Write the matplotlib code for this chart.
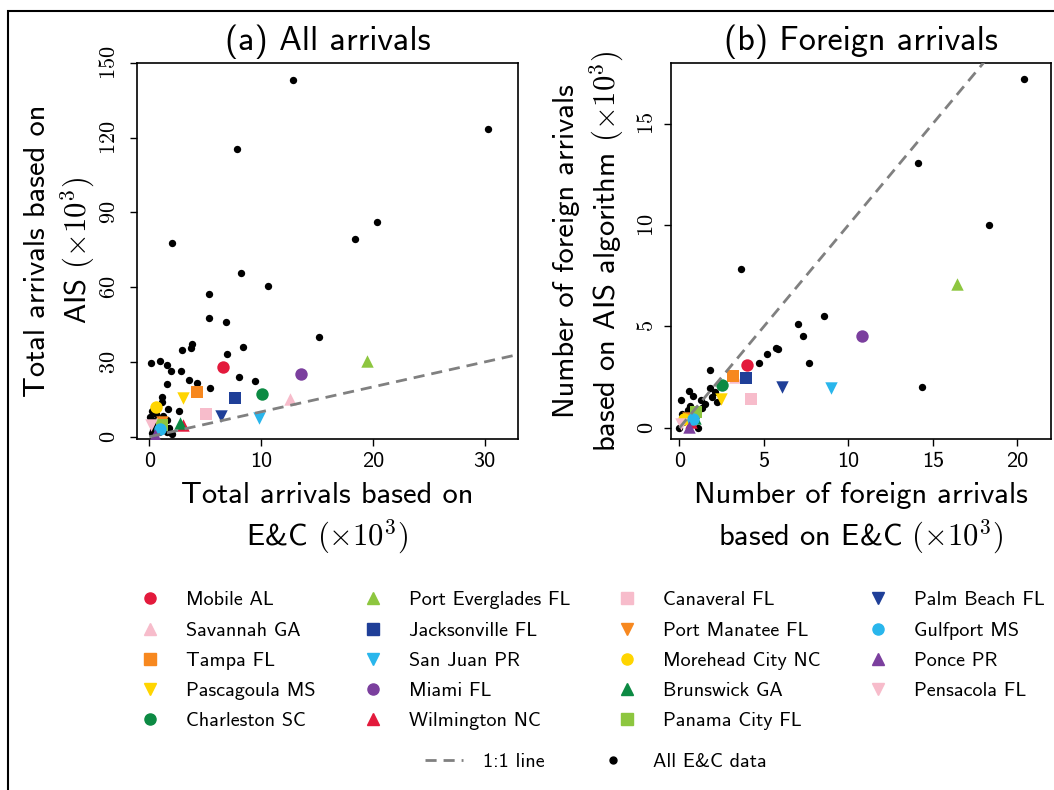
import numpy as np
import matplotlib
matplotlib.use("Agg")
import matplotlib.pyplot as plt
from matplotlib.lines import Line2D
from matplotlib.patches import Rectangle

plt.rcParams['font.family'] = ['cmss10', 'DejaVu Sans']
plt.rcParams['mathtext.fontset'] = 'cm'
plt.rcParams['axes.unicode_minus'] = False

# ports (legend order) with marker style and colour
ports = ['Mobile AL', 'Savannah GA', 'Tampa FL', 'Pascagoula MS', 'Charleston SC',
         'Port Everglades FL', 'Jacksonville FL', 'San Juan PR', 'Miami FL', 'Wilmington NC',
         'Canaveral FL', 'Port Manatee FL', 'Morehead City NC', 'Brunswick GA', 'Panama City FL',
         'Palm Beach FL', 'Gulfport MS', 'Ponce PR', 'Pensacola FL']
markers = ['o', '^', 's', 'v', 'o', '^', 's', 'v', 'o', '^',
           's', 'v', 'o', '^', 's', 'v', 'o', '^', 'v']
colors = ['#E31A3C', '#F7BCCB', '#F7881F', '#FFD500', '#0C8A43',
          '#8DC63F', '#1F3F98', '#29B6EC', '#7B3F9E', '#E31A3C',
          '#F7BCCB', '#F7881F', '#FFD500', '#0C8A43', '#8DC63F',
          '#1F3F98', '#29B6EC', '#7B3F9E', '#F7BCCB']

# (a) all arrivals, thousands: E&C vs AIS
port_all_ec = [6.6, 12.6, 4.3, 3.0, 10.1, 19.5, 7.7, 9.8, 13.6, 3.0,
               5.1, 1.1, 0.6, 2.75, 1.1, 6.4, 0.95, 0.5, 0.13]
port_all_ais = [28.1, 15.0, 18.0, 15.4, 17.0, 30.5, 15.7, 7.4, 25.0, 4.8,
                9.1, 6.0, 12.0, 5.6, 4.7, 8.4, 3.0, 0.7, 4.7]

# (b) foreign arrivals, thousands: E&C vs AIS algorithm
port_for_ec = [4.0, 3.3, 3.2, 2.45, 2.5, 16.45, 3.95, 8.95, 10.8, 0.7,
               4.25, 0.5, 0.25, 0.9, 0.97, 6.05, 0.83, 0.57, 0.08]
port_for_ais = [3.1, 2.5, 2.56, 1.4, 2.12, 7.1, 2.48, 1.95, 4.54, 0.3,
                1.44, 0.5, 0.44, 0.5, 0.77, 2.0, 0.44, 0.06, 0.2]

# all E&C records
all_ec_x = [12.9, 30.3, 7.84, 2.06, 20.4, 18.4, 8.17, 10.65, 5.31, 5.31,
            6.83, 15.15, 3.85, 3.73, 2.93, 8.35, 6.98, 0.15, 0.98, 1.61,
            1.97, 2.84, 3.52, 4.27, 8.02, 9.45, 5.46, 1.58, 1.14, 1.11,
            1.7, 2.63, 0.2, 0.1, 0.6, 1.2, 1.6, 0.4, 1.3, 1.8,
            0.9, 1.6, 0.2, 2.0, 0.5, 1.0, 0.3]
all_ec_y = [143.0, 123.3, 115.4, 77.7, 86.1, 79.4, 65.9, 60.6, 57.3, 47.7,
            45.9, 40.0, 37.1, 35.7, 34.8, 36.1, 33.2, 29.6, 30.5, 28.7,
            26.4, 26.4, 22.8, 21.7, 23.9, 22.2, 19.7, 21.3, 15.9, 14.1,
            11.0, 10.3, 10.5, 8.0, 9.0, 8.2, 6.8, 6.5, 4.5, 3.5,
            2.0, 1.8, 1.5, 1.2, 4.0, 6.0, 2.8]
for_ec_x = [20.39, 14.13, 18.32, 3.63, 8.55, 7.05, 7.31, 7.68, 14.36, 5.73,
            5.85, 5.16, 4.69, 1.83, 1.81, 2.11, 2.21, 0.1, 0.57, 0.83,
            1.26, 1.32, 0.63, 0.14, 1.12, 0.0, 0.34, 1.0, 1.5, 0.5,
            1.9, 0.2]
for_ec_y = [17.21, 13.08, 10.01, 7.86, 5.51, 5.10, 4.51, 3.21, 2.0, 3.94,
            3.9, 3.63, 3.18, 2.84, 1.97, 1.76, 1.26, 1.38, 1.82, 1.56,
            1.38, 0.98, 1.1, 0.69, 0.0, 0.0, 0.44, 0.6, 1.2, 0.9,
            1.5, 0.3]

fig = plt.figure(figsize=(10.54, 7.9), dpi=100)
ax1 = fig.add_axes([0.130, 0.4443, 0.3615, 0.476])
ax2 = fig.add_axes([0.6366, 0.4443, 0.3605, 0.476])

line_kw = dict(color='gray', ls=(0, (4, 2.5)), lw=2, zorder=5)

def draw(ax, ec_x, ec_y, px, py, lim):
    ax.scatter(ec_x, ec_y, s=28, c='black', lw=0, zorder=2)
    for i in range(len(ports)):
        ax.scatter(px[i], py[i], s=80, marker=markers[i], c=colors[i], lw=0, zorder=3)
    ax.plot([0, lim], [0, lim], **line_kw)

draw(ax1, all_ec_x, all_ec_y, port_all_ec, port_all_ais, 40)
draw(ax2, for_ec_x, for_ec_y, port_for_ec, port_for_ais, 25)

ax1.set_xlim(-1.1, 33)
ax1.set_ylim(-0.9, 150)
ax2.set_xlim(-0.5, 22)
ax2.set_ylim(-0.55, 18)

ax1.set_xticks([0, 10, 20, 30])
ax1.set_yticks([0, 30, 60, 90, 120, 150])
ax2.set_xticks([0, 5, 10, 15, 20])
ax2.set_yticks([0, 5, 10, 15])

for ax, ypad in ((ax1, 8), (ax2, 5)):
    ax.set_yticklabels(['$%d$' % t for t in ax.get_yticks()], rotation=90,
                       va='center', fontsize=16)
    ax.set_xticklabels(['%d' % t for t in ax.get_xticks()], fontsize=16)
    ax.tick_params(axis='y', pad=ypad, length=5, width=1)
    ax.tick_params(axis='x', pad=4, length=5, width=1)
    for sp in ax.spines.values():
        sp.set_linewidth(1.2)

ax1.set_title('(a) All arrivals', fontsize=24.5, pad=9)
ax2.set_title('(b) Foreign arrivals', fontsize=24.5, pad=9)

lab_kw = dict(fontsize=22, va='center', linespacing=1.28)
ax1.set_xlabel('Total arrivals based on\nE&C $(\\times 10^3)$', **lab_kw)
ax1.set_ylabel('Total arrivals based on\nAIS $(\\times 10^3)$', **lab_kw)
ax2.set_xlabel('Number of foreign arrivals\nbased on E&C $(\\times 10^3)$', **lab_kw)
ax2.set_ylabel('Number of foreign arrivals\nbased on AIS algorithm $(\\times 10^3)$', **lab_kw)
ax1.xaxis.set_label_coords(0.5, -0.213)
ax1.yaxis.set_label_coords(-0.2, 0.5)
ax2.xaxis.set_label_coords(0.5, -0.213)
ax2.yaxis.set_label_coords(-0.215, 0.5)

# port legend
handles = [Line2D([], [], ls='none', marker=markers[i], color=colors[i], ms=8)
           for i in range(len(ports))]
fig.legend(handles, ports, ncol=4, loc='upper left', bbox_to_anchor=(0.1328, 0.2515),
           frameon=False, fontsize=14.5, handlelength=1.0, handletextpad=1.3,
           columnspacing=2.32, labelspacing=0.6, borderpad=0, borderaxespad=0)

# reference line / all data legend
extra = [Line2D([], [], **line_kw),
         Line2D([], [], ls='none', marker='o', color='black', ms=5)]
fig.legend(extra, ['1:1 line', 'All E&C data'], ncol=2, loc='center left',
           bbox_to_anchor=(0.403, 0.035), frameon=False, fontsize=14.5,
           handlelength=1.9, handletextpad=1.0, columnspacing=2.45,
           borderpad=0, borderaxespad=0)

fig.patches.append(Rectangle((8 / 1054, -0.1), 2, 1.0861, transform=fig.transFigure,
                             fill=False, lw=1.5, ec='black'))

fig.savefig('out.png', dpi=100)
